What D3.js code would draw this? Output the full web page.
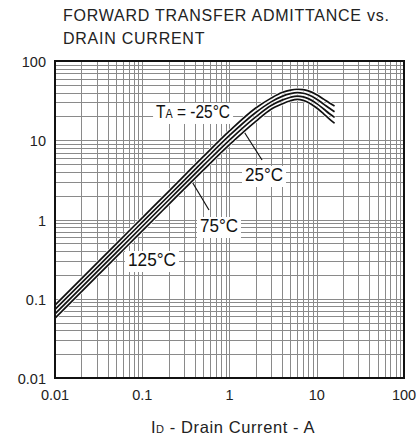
<!DOCTYPE html>
<html>
<head>
<meta charset="utf-8">
<script src="https://cdn.jsdelivr.net/npm/d3@7"></script>
<style>
  html, body { margin: 0; padding: 0; background: #fff; }
  svg { display: block; }
</style>
</head>
<body>
<div id="chart"></div>
<script>
// ---- Data ----
const titleLines = ["FORWARD TRANSFER ADMITTANCE vs.", "DRAIN CURRENT"];
const xTickValues = [0.01, 0.1, 1, 10, 100];
const xTickLabels = ["0.01", "0.1", "1", "10", "100"];
const yTickValues = [0.01, 0.1, 1, 10, 100];
const yTickLabels = ["0.01", "0.1", "1", "10", "100"];

const drainCurrent = [0.01, 0.02, 0.05, 0.1, 0.2, 0.5, 1, 2, 3, 4, 5, 6, 7, 8, 10, 12, 14, 16];
const yfsMinus25 = [0.083, 0.178, 0.49, 1.05, 2.25, 6.2, 13.1, 25.5, 34, 40, 43, 44, 43.5, 42, 37.5, 33, 29.5, 27];
const yfs25      = [0.0733, 0.157, 0.432, 0.925, 1.98, 5.44, 11.5, 22.4, 30.5, 35.8, 38.7, 39.8, 39.2, 37.5, 33.0, 28.6, 25.3, 22.9];
const yfs75      = [0.0646, 0.138, 0.380, 0.816, 1.75, 4.78, 10.05, 19.7, 27.4, 32.1, 34.9, 36.1, 35.3, 33.5, 29.0, 24.8, 21.6, 19.4];
const yfs125     = [0.057, 0.122, 0.335, 0.72, 1.54, 4.2, 8.8, 17.3, 24.6, 28.7, 31.5, 32.7, 31.8, 30, 25.5, 21.5, 18.5, 16.4];
const seriesList = [yfsMinus25, yfs25, yfs75, yfs125];

// annotations (data coordinates)
const labelNames = ["TA", "25°C", "75°C", "125°C"];
const labelX = [0.144, 1.506, 0.459, 0.0687];
const labelY = [19.1, 3.06, 0.695, 0.259];
const leaderFromX = [1.355, 0.362];
const leaderFromY = [14.7, 3.15];
const leaderToX = [2.36, 0.582];
const leaderToY = [5.63, 1.32];

// ---- Layout ----
const W = 419, H = 446;
const m = { left: 55, top: 61 };
const pw = 404 - m.left, ph = 378 - m.top;

const svg = d3.select("#chart").append("svg").attr("width", W).attr("height", H);

const x = d3.scaleLog().domain([0.01, 100]).range([m.left, m.left + pw]);
const y = d3.scaleLog().domain([0.01, 100]).range([m.top + ph, m.top]);

const sansFont = "'Liberation Sans', Arial, Helvetica, sans-serif";
const labelFont = "'Liberation Sans', Arial, sans-serif";
const labelWidths = [74, 38, 38, 48];

// title
svg.append("g").selectAll("text").data(titleLines).join("text")
  .attr("x", 63).attr("y", (d, i) => 21 + i * 22.5)
  .attr("font-family", sansFont).attr("font-size", 16).attr("letter-spacing", 0.75).attr("fill", "#222")
  .text(d => d);

// grid
const grid = svg.append("g").attr("stroke", "#8a8a8a").attr("stroke-width", 1);
grid.selectAll("line.gx").data(x.ticks()).join("line")
  .attr("x1", d => Math.round(x(d)) + 0.5).attr("x2", d => Math.round(x(d)) + 0.5)
  .attr("y1", m.top).attr("y2", m.top + ph);
grid.selectAll("line.gy").data(y.ticks()).join("line")
  .attr("y1", d => Math.round(y(d)) + 0.5).attr("y2", d => Math.round(y(d)) + 0.5)
  .attr("x1", m.left).attr("x2", m.left + pw);

// tick labels
svg.append("g").selectAll("text").data(xTickValues).join("text")
  .attr("x", d => x(d)).attr("y", 400)
  .attr("text-anchor", "middle")
  .attr("font-family", sansFont).attr("font-size", 14.5).attr("fill", "#222")
  .text((d, i) => xTickLabels[i]);
svg.append("g").selectAll("text").data(yTickValues).join("text")
  .attr("x", 46).attr("y", d => y(d) + 6)
  .attr("text-anchor", "end")
  .attr("font-family", sansFont).attr("font-size", 14.5).attr("fill", "#222")
  .text((d, i) => yTickLabels[i]);

// x axis title
const xt = svg.append("text").attr("x", 233).attr("y", 433)
  .attr("text-anchor", "middle")
  .attr("font-family", sansFont).attr("font-size", 16.5).attr("letter-spacing", 0.6).attr("fill", "#222");
xt.append("tspan").text("I");
xt.append("tspan").attr("font-size", 11).text("D");
xt.append("tspan").text(" - Drain Current - A");

// annotation labels (condensed horizontally)
const ann = svg.append("g");
labelNames.forEach((name, i) => {
  const g = ann.append("g");
  const t = g.append("text")
    .attr("x", 0).attr("y", 0)
    .attr("font-family", labelFont).attr("font-size", 18).attr("fill", "#111");
  if (name === "TA") {
    t.append("tspan").text("T");
    t.append("tspan").attr("font-size", 12.5).text("A");
    t.append("tspan").text(" = -25°C");
  } else {
    t.text(name);
  }
  const b = t.node().getBBox();
  const sx = labelWidths[i] / b.width;
  g.insert("rect", "text")
    .attr("x", b.x - 3 / sx).attr("y", b.y + 1)
    .attr("width", b.width + 6 / sx).attr("height", b.height + 1)
    .attr("fill", "#fff");
  g.attr("transform", `translate(${x(labelX[i])},${y(labelY[i])}) scale(${sx},1)`);
});

// leaders
svg.append("g").selectAll("line").data(leaderFromX).join("line")
  .attr("x1", (d, i) => x(d)).attr("y1", (d, i) => y(leaderFromY[i]))
  .attr("x2", (d, i) => x(leaderToX[i])).attr("y2", (d, i) => y(leaderToY[i]))
  .attr("stroke", "#111").attr("stroke-width", 1.2);

// curves
const line = d3.line()
  .x((d, i) => x(drainCurrent[i]))
  .y(d => y(d))
  .curve(d3.curveMonotoneX);
const cg = svg.append("g").attr("fill", "none").attr("stroke-linecap", "butt");
cg.selectAll("path.under").data(seriesList).join("path")
  .attr("d", line).attr("stroke", "#fff").attr("stroke-width", 3.2);
cg.selectAll("path.over").data(seriesList).join("path")
  .attr("d", line).attr("stroke", "#111").attr("stroke-width", 1.7);

// border
svg.append("rect").attr("x", m.left).attr("y", m.top).attr("width", pw).attr("height", ph)
  .attr("fill", "none").attr("stroke", "#111").attr("stroke-width", 2);
</script>
</body>
</html>
